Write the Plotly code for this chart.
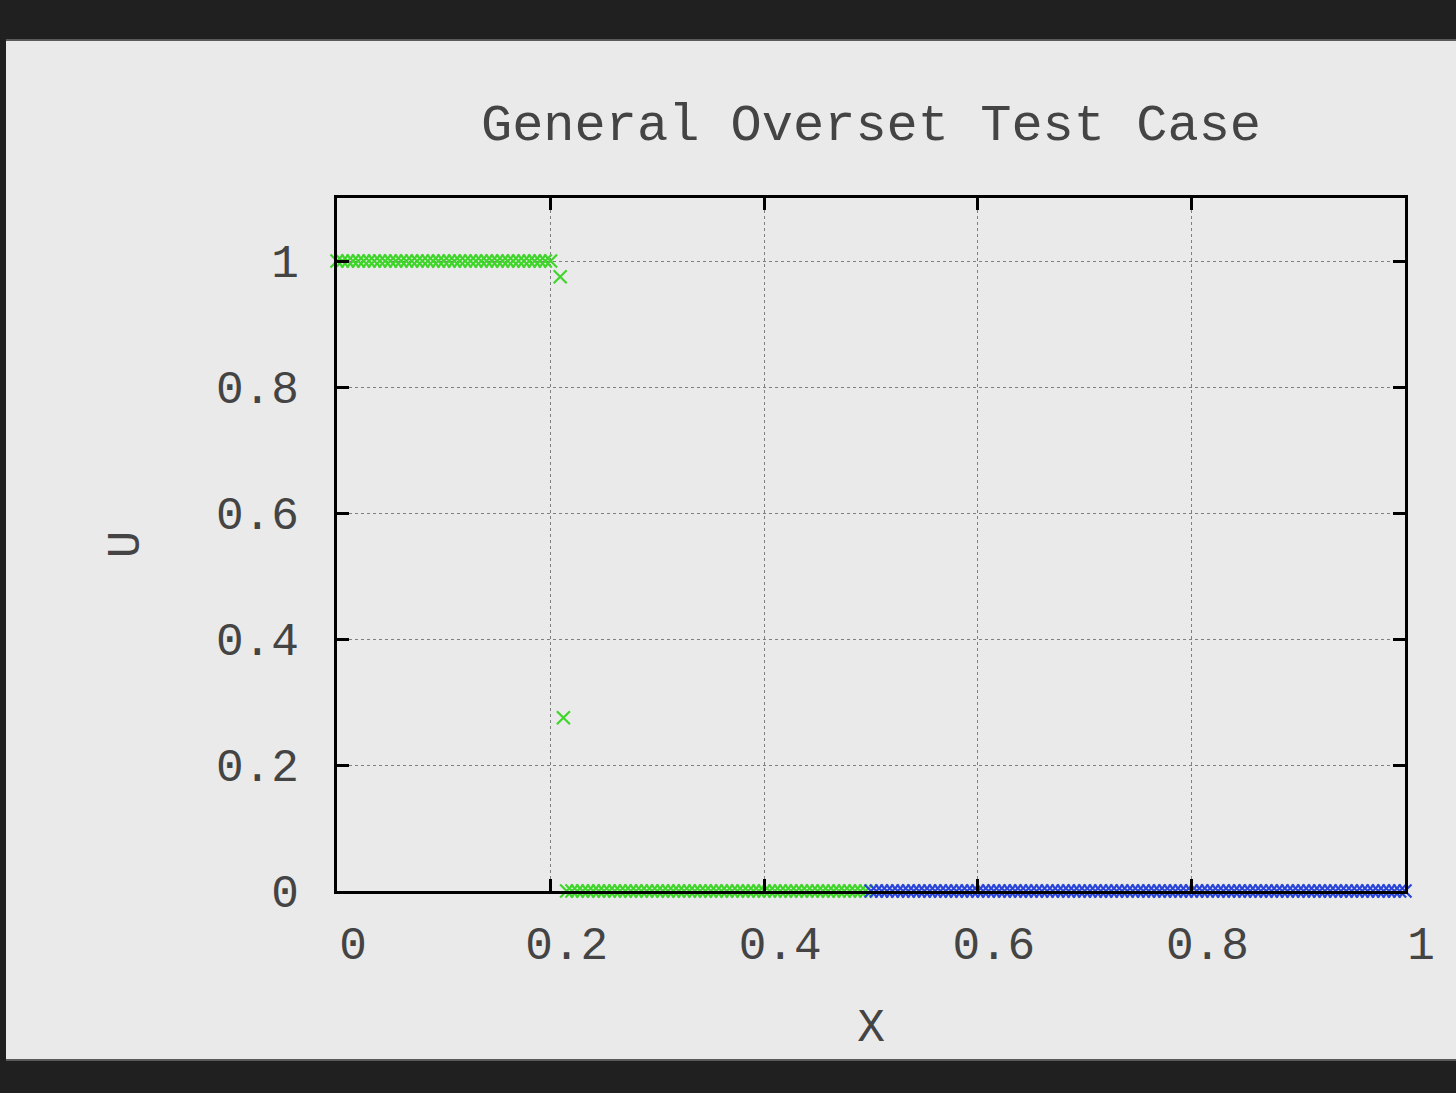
import plotly.graph_objects as go

# ---- data ----
green_x = [
    0.000, 0.005, 0.010, 0.015, 0.020, 0.025, 0.030, 0.035, 0.040, 0.045,
    0.050, 0.055, 0.060, 0.065, 0.070, 0.075, 0.080, 0.085, 0.090, 0.095,
    0.100, 0.105, 0.110, 0.115, 0.120, 0.125, 0.130, 0.135, 0.140, 0.145,
    0.150, 0.155, 0.160, 0.165, 0.170, 0.175, 0.180, 0.185, 0.190, 0.195,
    0.200,
    0.209, 0.212,
    0.215, 0.220, 0.225, 0.230, 0.235, 0.240, 0.245, 0.250, 0.255, 0.260,
    0.265, 0.270, 0.275, 0.280, 0.285, 0.290, 0.295, 0.300, 0.305, 0.310,
    0.315, 0.320, 0.325, 0.330, 0.335, 0.340, 0.345, 0.350, 0.355, 0.360,
    0.365, 0.370, 0.375, 0.380, 0.385, 0.390, 0.395, 0.400, 0.405, 0.410,
    0.415, 0.420, 0.425, 0.430, 0.435, 0.440, 0.445, 0.450, 0.455, 0.460,
    0.465, 0.470, 0.475, 0.480, 0.485, 0.490, 0.495,
]
green_u = [
    1, 1, 1, 1, 1, 1, 1, 1, 1, 1,
    1, 1, 1, 1, 1, 1, 1, 1, 1, 1,
    1, 1, 1, 1, 1, 1, 1, 1, 1, 1,
    1, 1, 1, 1, 1, 1, 1, 1, 1, 1,
    1,
    0.975, 0.275,
    0, 0, 0, 0, 0, 0, 0, 0, 0, 0,
    0, 0, 0, 0, 0, 0, 0, 0, 0, 0,
    0, 0, 0, 0, 0, 0, 0, 0, 0, 0,
    0, 0, 0, 0, 0, 0, 0, 0, 0, 0,
    0, 0, 0, 0, 0, 0, 0, 0, 0, 0,
    0, 0, 0, 0, 0, 0, 0,
]
blue_x = [
    0.500, 0.505, 0.510, 0.515, 0.520, 0.525, 0.530, 0.535, 0.540, 0.545,
    0.550, 0.555, 0.560, 0.565, 0.570, 0.575, 0.580, 0.585, 0.590, 0.595,
    0.600, 0.605, 0.610, 0.615, 0.620, 0.625, 0.630, 0.635, 0.640, 0.645,
    0.650, 0.655, 0.660, 0.665, 0.670, 0.675, 0.680, 0.685, 0.690, 0.695,
    0.700, 0.705, 0.710, 0.715, 0.720, 0.725, 0.730, 0.735, 0.740, 0.745,
    0.750, 0.755, 0.760, 0.765, 0.770, 0.775, 0.780, 0.785, 0.790, 0.795,
    0.800, 0.805, 0.810, 0.815, 0.820, 0.825, 0.830, 0.835, 0.840, 0.845,
    0.850, 0.855, 0.860, 0.865, 0.870, 0.875, 0.880, 0.885, 0.890, 0.895,
    0.900, 0.905, 0.910, 0.915, 0.920, 0.925, 0.930, 0.935, 0.940, 0.945,
    0.950, 0.955, 0.960, 0.965, 0.970, 0.975, 0.980, 0.985, 0.990, 0.995,
    1.000,
]
blue_u = [
    0, 0, 0, 0, 0, 0, 0, 0, 0, 0,
    0, 0, 0, 0, 0, 0, 0, 0, 0, 0,
    0, 0, 0, 0, 0, 0, 0, 0, 0, 0,
    0, 0, 0, 0, 0, 0, 0, 0, 0, 0,
    0, 0, 0, 0, 0, 0, 0, 0, 0, 0,
    0, 0, 0, 0, 0, 0, 0, 0, 0, 0,
    0, 0, 0, 0, 0, 0, 0, 0, 0, 0,
    0, 0, 0, 0, 0, 0, 0, 0, 0, 0,
    0, 0, 0, 0, 0, 0, 0, 0, 0, 0,
    0, 0, 0, 0, 0, 0, 0, 0, 0, 0,
    0,
]
x_ticks = [0, 0.2, 0.4, 0.6, 0.8, 1]
x_tick_text = ["0", "0.2", "0.4", "0.6", "0.8", "1"]
y_ticks = [0, 0.2, 0.4, 0.6, 0.8, 1]
y_tick_text = ["0", "0.2", "0.4", "0.6", "0.8", "1"]

FONT = "Liberation Mono, Courier New, monospace"
TXT = "#444444"
LIGHT = "#eaeaea"
DARK = "#202020"

W, H = 1456, 1093
L, R, T, B = 337, 51, 198, 202
pw, ph = W - L - R, H - T - B

fig = go.Figure()
fig.add_trace(go.Scatter(
    x=green_x, y=green_u, mode="markers", name="grid 1", cliponaxis=False,
    marker=dict(symbol="x-thin", size=13, color="#3fd52a",
                line=dict(width=2.2, color="#3fd52a")),
))
fig.add_trace(go.Scatter(
    x=blue_x, y=blue_u, mode="markers", name="grid 2", cliponaxis=False,
    marker=dict(symbol="x-thin", size=13, color="#2a45d8",
                line=dict(width=2.2, color="#2a45d8")),
))

def px_x(p):
    return (p - L) / pw

def px_y(p):
    return (H - B - p) / ph

# light page area over dark frame
fig.add_shape(type="rect", xref="paper", yref="paper", layer="below",
              x0=px_x(6), x1=px_x(W + 20), y0=px_y(1060), y1=px_y(40),
              fillcolor=LIGHT, line=dict(width=0))
fig.add_shape(type="line", xref="paper", yref="paper", layer="below",
              x0=px_x(6), x1=px_x(W + 20), y0=px_y(40), y1=px_y(40),
              line=dict(color="#5a5a5a", width=2))
fig.add_shape(type="line", xref="paper", yref="paper", layer="below",
              x0=px_x(6), x1=px_x(W + 20), y0=px_y(1060), y1=px_y(1060),
              line=dict(color="#5a5a5a", width=2))

axis_common = dict(
    showline=True, linecolor="black", linewidth=3, mirror="allticks",
    ticks="inside", ticklen=12, tickwidth=3, tickcolor="black",
    showgrid=True, gridcolor="#808080", gridwidth=1, griddash="dot",
    zeroline=False,
    tickfont=dict(family=FONT, size=46, color=TXT),
)

fig.update_layout(
    width=W, height=H,
    margin=dict(l=L, r=R, t=T, b=B),
    paper_bgcolor=DARK, plot_bgcolor=LIGHT,
    showlegend=False,
    title=dict(text="General Overset Test Case", x=(871) / W, xanchor="center",
               y=1 - 122 / H, yanchor="middle",
               font=dict(family=FONT, size=52, color=TXT)),
    xaxis=dict(range=[0, 1], tickvals=x_ticks, ticktext=x_tick_text,
               ticklabelstandoff=10, ticklabelshift=16,
               title=dict(text="X", standoff=37,
                          font=dict(family=FONT, size=46, color=TXT)),
               **axis_common),
    yaxis=dict(range=[0, 1.1], tickvals=y_ticks, ticktext=y_tick_text,
               ticklabelstandoff=26,
               title=dict(text="U", standoff=62,
                          font=dict(family=FONT, size=46, color=TXT)),
               **axis_common),
)

fig.write_html("out.html")
